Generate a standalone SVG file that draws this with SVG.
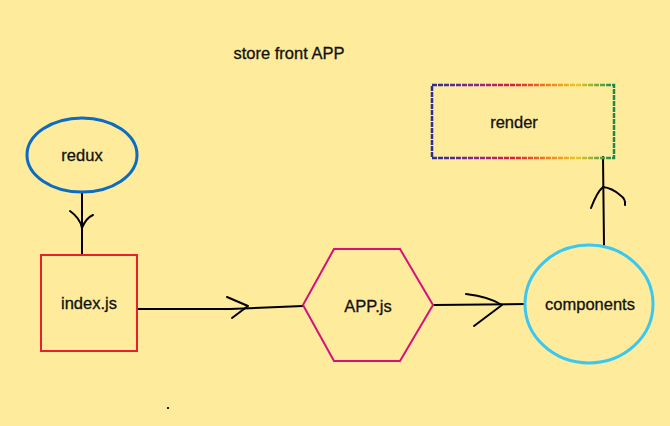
<svg xmlns="http://www.w3.org/2000/svg" width="670" height="426" viewBox="0 0 670 426">
<style>
text{font-family:"Liberation Sans",Arial,sans-serif;font-size:16.5px;fill:#111;text-anchor:middle;dominant-baseline:central;stroke:#111;stroke-width:0.3}
.c{fill:none;stroke:#000;stroke-width:2;stroke-linecap:round;stroke-linejoin:round}
</style>
<defs>
<linearGradient id="rb" x1="0" y1="0" x2="1" y2="0">
<stop offset="0" stop-color="#2b2f8f"/>
<stop offset="0.25" stop-color="#8a2a8a"/>
<stop offset="0.45" stop-color="#d8203a"/>
<stop offset="0.62" stop-color="#f07a20"/>
<stop offset="0.8" stop-color="#e8c828"/>
<stop offset="1" stop-color="#1a8a4a"/>
</linearGradient>
</defs>
<rect width="670" height="426" fill="#feeb9c"/>
<text x="289" y="53">store front APP</text>
<g id="connectors">
<path class="c" d="M82,193 L82,255"/>
<path class="c" d="M70,211 Q80,218 82,228 Q86,218 93,215"/>
<path class="c" d="M138,309 L230,309 L303,306"/>
<path class="c" d="M227,297 L248,306 L232,318"/>
<path class="c" d="M434,305 L525,304"/>
<path class="c" d="M466,294 Q490,297 502,305 L474,326"/>
<path class="c" d="M604,245 L603,157"/>
<path class="c" d="M591,208 Q597,192 603,187 Q612,188 620,195 Q626,199 625,205"/>
</g>
<g id="redux">
<ellipse cx="82" cy="155" rx="55" ry="37" fill="none" stroke="#0c6bc2" stroke-width="3"/>
<text x="82" y="155">redux</text>
</g>
<g id="index">
<rect x="41" y="255" width="96" height="96" fill="none" stroke="#e8202a" stroke-width="2"/>
<text x="89" y="303">index.js</text>
</g>
<g id="app">
<polygon points="303,305 334,249 400,249 433,305 400,361 334,361" fill="none" stroke="#d6127a" stroke-width="2"/>
<text x="368" y="306">APP.js</text>
</g>
<g id="components">
<ellipse cx="589" cy="304" rx="64" ry="59" fill="none" stroke="#3ac8f0" stroke-width="3"/>
<text x="590" y="304">components</text>
</g>
<g id="render">
<rect x="432" y="85" width="182" height="73" fill="none" stroke="url(#rb)" stroke-width="2.5" stroke-dasharray="5 1"/>
<text x="514" y="122">render</text>
</g>
<rect x="167" y="407" width="2" height="2" fill="#222"/>
</svg>
